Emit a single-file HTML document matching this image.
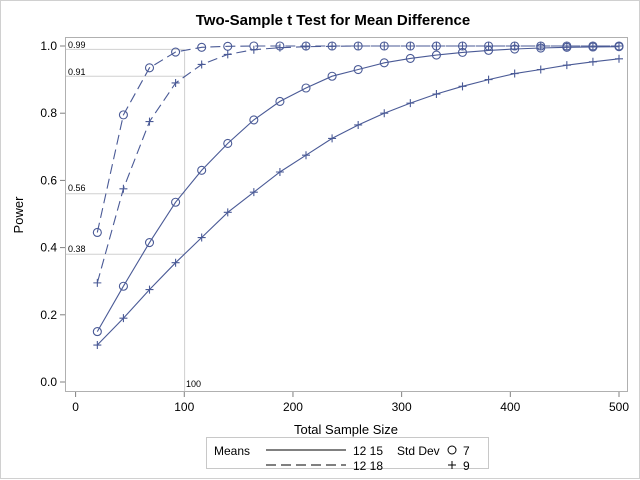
<!DOCTYPE html>
<html><head><meta charset="utf-8"><style>
html,body{margin:0;padding:0;background:#fff;}
svg{display:block;font-family:"Liberation Sans",sans-serif;}
</style></head><body>
<svg id="s" width="640" height="480" xmlns="http://www.w3.org/2000/svg">
<rect x="0.5" y="0.5" width="639" height="478" fill="#fff" stroke="#d0d0d0"/>
<text x="333" y="25" font-size="15" font-weight="bold" text-anchor="middle" fill="#000">Two-Sample t Test for Mean Difference</text>
<rect x="65.5" y="37.5" width="562" height="354" fill="none" stroke="#b0b0b0"/>
<g stroke="#d0d0d0" stroke-width="1" fill="none">
<line x1="184.6" y1="51.4" x2="184.6" y2="391"/>
<line x1="66" y1="49.4" x2="184.6" y2="49.4"/>
<line x1="66" y1="76.2" x2="184.6" y2="76.2"/>
<line x1="66" y1="193.8" x2="184.6" y2="193.8"/>
<line x1="66" y1="254.3" x2="184.6" y2="254.3"/>
</g>
<g font-size="9" fill="#000">
<text x="68" y="48">0.99</text>
<text x="68" y="75">0.91</text>
<text x="68" y="191">0.56</text>
<text x="68" y="252">0.38</text>
<text x="186" y="387">100</text>
</g>
<g id="ax" stroke="#808080" fill="none"></g>
<g id="lab" font-size="12" fill="#000"></g>
<text x="23" y="215" font-size="13" text-anchor="middle" transform="rotate(-90 23 215)">Power</text>
<text x="346" y="434" font-size="13" text-anchor="middle">Total Sample Size</text>
<rect x="206.5" y="437.5" width="282" height="31" fill="#fff" stroke="#c8c8c8"/>
<g font-size="12" fill="#000">
<text x="214" y="455">Means</text>
<text x="353" y="455">12 15</text>
<text x="353" y="470">12 18</text>
<text x="397" y="455">Std Dev</text>
<text x="463" y="455">7</text>
<text x="463" y="470">9</text>
</g>
<line x1="266" y1="450" x2="346" y2="450" stroke="#000"/>
<line x1="266" y1="465" x2="346" y2="465" stroke="#000" stroke-dasharray="10,5"/>
<circle cx="452" cy="450" r="4" fill="none" stroke="#000"/>
<path d="M448 465h8M452 461v8" stroke="#000"/>
<g id="d" stroke="#4a5a96" fill="none" stroke-width="1.1"></g>
</svg>
<script>
var X=function(n){return 75.6+n*1.0868;},Y=function(p){return 382-p*336;};
var ax=document.getElementById('ax'),lab=document.getElementById('lab'),d=document.getElementById('d'),h='',l='';
[0,100,200,300,400,500].forEach(function(v){var x=X(v);h+='<line x1="'+x+'" y1="392" x2="'+x+'" y2="397"/>';l+='<text x="'+x+'" y="411" text-anchor="middle">'+v+'</text>';});
[0,0.2,0.4,0.6,0.8,1].forEach(function(v){var y=Y(v);h+='<line x1="60" y1="'+y+'" x2="65" y2="'+y+'"/>';l+='<text x="57" y="'+(y+4)+'" text-anchor="end">'+v.toFixed(1)+'</text>';});
ax.innerHTML=h;lab.innerHTML=l;
var S=[
{p:[0.15,0.285,0.415,0.535,0.63,0.71,0.78,0.835,0.875,0.91,0.93,0.95,0.963,0.973,0.981,0.987,0.991,0.994,0.996,0.997,0.998],m:'o',ds:''},
{p:[0.11,0.19,0.275,0.355,0.43,0.505,0.565,0.625,0.675,0.725,0.765,0.80,0.83,0.857,0.88,0.90,0.918,0.93,0.943,0.953,0.962],m:'+',ds:''},
{p:[0.445,0.795,0.935,0.982,0.996,0.999,1,1,1,1,1,1,1,1,1,1,1,1,1,1,1],m:'o',ds:'10,5'},
{p:[0.295,0.575,0.775,0.89,0.945,0.975,0.989,0.995,0.998,0.999,1,1,1,1,1,1,1,1,1,1,1],m:'+',ds:'10,5'}];
var o='';
S.forEach(function(s){var pts=s.p.map(function(p,i){return X(20+24*i).toFixed(1)+','+Y(p).toFixed(1);});
o+='<polyline points="'+pts.join(' ')+'"'+(s.ds?' stroke-dasharray="'+s.ds+'"':'')+'/>';
s.p.forEach(function(p,i){var x=X(20+24*i),y=Y(p);
if(s.m=='o')o+='<circle cx="'+x+'" cy="'+y+'" r="4"/>';else o+='<path d="M'+(x-4)+' '+y+'h8M'+x+' '+(y-4)+'v8"/>';});});
d.innerHTML=o;
</script>
</body></html>
